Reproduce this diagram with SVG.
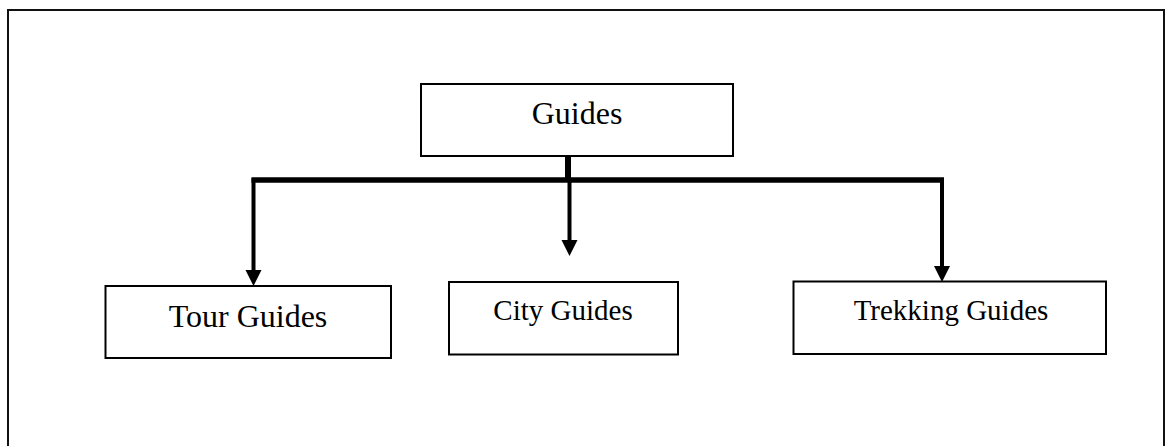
<svg xmlns="http://www.w3.org/2000/svg" width="1167" height="446" viewBox="0 0 1167 446">
<style>
.box{fill:#fff;stroke:#000;stroke-width:2}
.lbl{font-family:"Liberation Serif","Times New Roman",serif;fill:#000;text-anchor:middle}
.con{stroke:#000;fill:none}
</style>
<defs>
<marker id="arr" markerUnits="userSpaceOnUse" markerWidth="17" markerHeight="17" refX="0" refY="8" orient="auto">
<path d="M0,0 L16,8 L0,16 z" fill="#000"/>
</marker>
</defs>
<rect x="8" y="10" width="1156" height="500" fill="#fff" stroke="#111" stroke-width="2"/>
<g id="connectors">
<line class="con" x1="568" y1="155" x2="568" y2="181" stroke-width="6"/>
<line class="con" x1="251.5" y1="180" x2="944" y2="180" stroke-width="5.5"/>
<line class="con" x1="253.5" y1="178" x2="253.5" y2="270" stroke-width="4" marker-end="url(#arr)"/>
<line class="con" x1="569.5" y1="180" x2="569.5" y2="240" stroke-width="4" marker-end="url(#arr)"/>
<line class="con" x1="942" y1="178" x2="942" y2="266" stroke-width="4" marker-end="url(#arr)"/>
</g>
<g id="guides">
<rect class="box" x="421" y="84" width="312" height="72"/>
<text class="lbl" x="577" y="124" font-size="32">Guides</text>
</g>
<g id="tour-guides">
<rect class="box" x="105.5" y="286" width="285.5" height="72"/>
<text class="lbl" x="248" y="327" font-size="32">Tour Guides</text>
</g>
<g id="city-guides">
<rect class="box" x="449" y="282" width="229" height="72.5"/>
<text class="lbl" x="563" y="320" font-size="29">City Guides</text>
</g>
<g id="trekking-guides">
<rect class="box" x="793.5" y="281.5" width="312.5" height="72.5"/>
<text class="lbl" x="951" y="320" font-size="29">Trekking Guides</text>
</g>
</svg>
